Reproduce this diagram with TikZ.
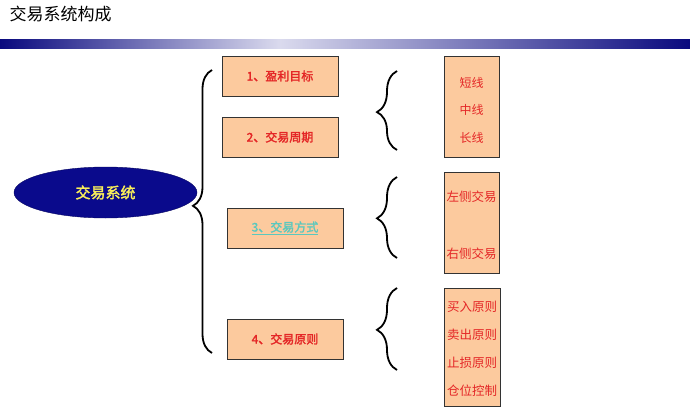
\documentclass[tikz,border=0pt]{standalone}
\usepackage{fontspec}
\setmainfont[AutoFakeBold=2]{Noto Sans CJK SC}
\usetikzlibrary{shapes.geometric,decorations.pathreplacing}
\definecolor{peach}{RGB}{252,202,158}
\definecolor{navy}{RGB}{10,10,140}
\definecolor{tred}{RGB}{228,38,38}
\definecolor{tcyan}{RGB}{90,200,190}
\definecolor{tyellow}{RGB}{250,240,90}
\begin{document}
\begin{tikzpicture}[x=1pt,y=-1pt,
    box/.style={draw=black!80,fill=peach,inner sep=0pt,minimum width=116pt,minimum height=40pt,
        font=\fontsize{12}{14}\selectfont\bfseries,text=tred},
    sidebox/.style={draw=black!80,fill=peach,inner sep=0pt,minimum width=55pt},
    sidetext/.style={align=center,text=tred,inner sep=0pt},
    curly/.style={line width=1.8pt,decorate,decoration={brace,amplitude=19pt,#1}}]
\useasboundingbox (0,0) rectangle (690,407);
% Kopfzeile
\node[anchor=west,font=\fontsize{17}{20}\selectfont] (title) at (6,14) {交易系统构成};
\shade[left color=navy!90!black,right color=navy!15] (0,39) rectangle (280,48);
\shade[left color=navy!15,right color=navy!90!black] (280,39) rectangle (690,48);
% Hauptknoten
\node[ellipse,draw=navy!70!black,fill=navy,minimum width=183pt,minimum height=51pt,
    font=\fontsize{15}{17}\selectfont\bfseries,text=tyellow] (sys) at (105.5,192.5) {交易系统};
\draw[curly={aspect=0.52}] (212,353) -- (212,70);
\node[box] (goal) at (280,76) {1、盈利目标};
\node[box] (period) at (280,137) {2、交易周期};
\node[box,text=tcyan] (mode) at (285,228) {\underline{3、交易方式}};
\node[box] (rule) at (285,339) {4、交易原则};
% rechte Spalte
\draw[curly={amplitude=20pt,aspect=0.48}] (397,150) -- (397,71);
\draw[curly={amplitude=20pt,aspect=0.49}] (397,258) -- (397,177);
\draw[curly={amplitude=20pt,aspect=0.49}] (397,370) -- (397,288);
\node[sidebox,minimum height=101pt] (term) at (471.5,106.5) {};
\node[sidebox,minimum height=101pt] (side) at (471.5,222.5) {};
\node[sidebox,minimum width=56pt,minimum height=118pt] (prin) at (472,347) {};
\node[sidetext,font=\fontsize{12}{27.5}\selectfont,yshift=-3.5pt] (termtxt) at (term) {短线\\中线\\长线};
\node[sidetext,font=\fontsize{12.5}{57}\selectfont,yshift=-3pt] (sidetxt) at (side) {左侧交易\\右侧交易};
\node[sidetext,font=\fontsize{12.5}{28}\selectfont,yshift=-1.5pt] (printxt) at (prin) {买入原则\\卖出原则\\止损原则\\仓位控制};
\end{tikzpicture}
\end{document}
